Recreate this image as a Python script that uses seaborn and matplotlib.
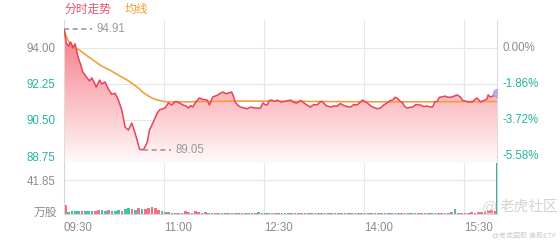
import numpy as np
import matplotlib
matplotlib.use("Agg")
import matplotlib.pyplot as plt
import matplotlib.transforms as mtransforms
from matplotlib.patches import Polygon
import seaborn as sns

# ---------------- data ----------------
prev_close = 94.00
price_ticks = [94.00, 92.25, 90.50, 88.75]
time_ticks = [0, 90, 180, 270, 360]
time_labels = ["09:30", "11:00", "12:30", "14:00", "15:30"]
vol_tick = 41.85

price_t = [0, 1, 2, 4, 6, 8, 10, 11, 13, 15, 17, 20, 23, 25, 27, 29, 32, 34, 37, 40,
           43, 46, 49, 52, 55, 58, 61, 64, 67, 68, 70, 72, 73, 75, 77, 80, 84, 86, 89, 91,
           94, 97, 100, 102, 105, 107, 110, 112, 114, 116, 119, 122, 125, 129, 131, 134, 138, 141, 143, 146,
           148, 151, 153, 154, 157, 159, 162, 165, 168, 170, 173, 177, 179, 181, 183, 185, 187, 190, 192, 195,
           197, 200, 204, 207, 210, 213, 215, 218, 222, 225, 228, 231, 233, 236, 240, 243, 246, 249, 251, 255,
           258, 261, 264, 267, 269, 271, 273, 276, 278, 282, 285, 288, 291, 294, 296, 298, 300, 303, 305, 307,
           309, 312, 314, 317, 321, 324, 327, 330, 332, 334, 336, 338, 340, 343, 345, 347, 349, 352, 354, 357,
           359, 361, 364, 366, 368, 370, 372, 374, 375, 377, 379, 381, 382, 384, 386, 388, 390]
price_v = [94.91, 94.60, 94.25, 94.10, 94.29, 94.00, 94.20, 93.95, 93.50, 93.20, 92.83, 92.60, 92.40, 92.55, 92.35, 92.10, 92.44, 92.25, 92.35, 92.00,
           91.75, 91.80, 91.47, 90.99, 90.16, 90.01, 90.35, 89.87, 89.30, 89.09, 89.05, 89.10, 89.20, 89.43, 90.01, 90.35, 90.84, 90.99, 91.05, 91.08,
           91.33, 91.23, 91.40, 91.38, 91.30, 91.23, 91.18, 91.08, 91.20, 91.13, 91.40, 91.57, 91.50, 91.47, 91.23, 91.62, 91.70, 91.81, 91.86, 91.78,
           91.81, 91.86, 91.60, 91.38, 91.20, 91.13, 91.08, 91.05, 91.13, 91.10, 91.08, 91.08, 91.33, 91.25, 91.23, 91.45, 91.47, 91.40, 91.47, 91.38,
           91.38, 91.42, 91.47, 91.35, 91.33, 91.45, 91.38, 91.25, 91.13, 91.25, 91.23, 91.40, 91.38, 91.20, 91.13, 91.18, 91.18, 91.30, 91.23, 91.15,
           91.13, 91.25, 91.23, 91.38, 91.47, 91.40, 91.33, 91.20, 91.13, 91.05, 91.08, 91.23, 91.33, 91.45, 91.47, 91.60, 91.57, 91.40, 91.33, 91.15,
           91.08, 91.12, 91.13, 91.25, 91.23, 91.15, 91.18, 91.13, 91.13, 91.38, 91.40, 91.60, 91.62, 91.66, 91.62, 91.60, 91.62, 91.67, 91.72, 91.62,
           91.45, 91.42, 91.38, 91.38, 91.38, 91.50, 91.57, 91.45, 91.38, 91.42, 91.47, 91.52, 91.72, 91.62, 91.65, 91.81, 91.81]

avg_t = [0, 1, 3, 5, 9, 14, 20, 26, 33, 41, 49, 57, 62, 66, 71, 75, 80, 84, 88, 93,
         110, 150, 200, 250, 300, 350, 390]
avg_v = [94.91, 94.73, 94.45, 94.24, 94.05, 93.90, 93.65, 93.42, 93.15, 92.93, 92.68, 92.44, 92.25, 92.10, 91.85, 91.70, 91.55, 91.47, 91.42, 91.38,
         91.38, 91.42, 91.41, 91.39, 91.38, 91.39, 91.40]

vol_v = [11.1, 2.5, 3.7, 3.1, 3.7, 3.1, 3.7, 3.7, 4.3, 3.7,
         4.9, 4.9, 3.7, 4.9, 3.7, 4.3, 4.9, 3.7, 6.2, 7.4,
         6.2, 4.9, 7.4, 6.2, 6.2, 8.0, 8.6, 7.4, 4.9, 3.7,
         2.5, 2.5, 1.8, 1.8, 1.2, 1.2, 3.7, 2.5, 1.8, 3.1,
         2.5, 1.5, 3.0, 1.2, 1.0, 1.5, 1.2, 0.9, 1.0, 1.4,
         1.1, 0.8, 1.2, 1.5, 1.0, 0.9, 1.3, 1.1, 2.0, 1.0,
         0.9, 1.2, 1.4, 1.0, 0.8, 1.1, 1.6, 1.2, 1.0, 0.9,
         1.3, 1.0, 1.2, 0.8, 1.5, 1.1, 1.0, 0.9, 1.2, 1.4,
         1.0, 1.8, 1.1, 0.9, 1.2, 1.0, 1.3, 0.8, 1.1, 1.0,
         1.2, 0.9, 1.5, 1.0, 1.1, 1.3, 0.9, 1.0, 1.2, 1.1,
         0.8, 1.0, 1.4, 1.2, 1.0, 0.9, 1.3, 1.6, 1.1, 1.0,
         1.2, 1.4, 1.0, 1.8, 1.3, 1.5, 2.0, 6.0, 1.5, 1.2,
         1.6, 1.4, 2.2, 1.8, 2.0, 2.5, 3.2, 4.5, 5.2, 4.0]
vol_dir = ("rggggrgggrrggrgggrggrgrgrrrrrggrgrgrrrgrr"
           "grggrrgrggrgrrggrgrggrrgrggrgrrgrgrggrgrggrrgrgrggrgrgrrggrgrgrggrrgrggrrrgrgrrrgrrrrrrrr")
vol_step = 3
close_vol = 62.8

# ---------------- style ----------------
RED = "#e8435c"
ORANGE = "#f3a03c"
TEAL = "#22b3a0"
GRAY = "#8c8c8c"
GRID = "#e6e6e6"
VRED = "#f07283"
VTEAL = "#45bfae"

sns.set_style("white")
plt.rcParams["font.family"] = ["Liberation Sans", "Noto Sans CJK SC", "DejaVu Sans"]

W, H = 560, 240
fig = plt.figure(figsize=(W / 100, H / 100), dpi=100)
x0, x1 = 64, 497
ax = fig.add_axes([x0 / W, 1 - 163 / H, (x1 - x0) / W, (163 - 20) / H])
axv = fig.add_axes([x0 / W, 1 - 214 / H, (x1 - x0) / W, (214 - 163) / H])

ymin, ymax = 88.41, 95.36
ax.set_xlim(0, 390)
ax.set_ylim(ymin, ymax)

# gradient fill under price line
verts = list(zip(price_t, price_v)) + [(390, ymin), (0, ymin)]
patch = Polygon(verts, closed=True, facecolor="none", edgecolor="none", transform=ax.transData)
ax.add_patch(patch)
top_c = np.array([246, 112, 125]) / 255
bot_c = np.array([255, 250, 250]) / 255
g = np.linspace(0, 1, 256)[:, None]
img = top_c[None, None, :] * (1 - g[..., None]) + bot_c[None, None, :] * g[..., None]
img = np.repeat(img, 2, axis=1)
im = ax.imshow(img, extent=[0, 390, ymin, ymax], aspect="auto", origin="upper", zorder=1)
im.set_clip_path(patch)

sns.lineplot(x=avg_t, y=avg_v, ax=ax, color=ORANGE, lw=1.2, zorder=3)
sns.lineplot(x=price_t, y=price_v, ax=ax, color=RED, lw=1.1, zorder=4)
ax.set_xlim(0, 390)
ax.set_ylim(ymin, ymax)

ax.scatter([price_t[-1]], [price_v[-1]], s=34, color="#bdb0ea", edgecolor="#a898de", lw=0.6, zorder=6)

# grid & ticks
ax.set_yticks(price_ticks)
ax.set_xticks(time_ticks)
ax.grid(True, color=GRID, lw=0.8)
ax.set_axisbelow(True)
ax.tick_params(length=0, pad=6, labelsize=8.3)
ax.set_xticklabels([])
ax.set_yticklabels([f"{p:.2f}" for p in price_ticks])
for lab, p in zip(ax.get_yticklabels(), price_ticks):
    lab.set_color(GRAY if abs(p - prev_close) < 1e-9 else TEAL)
trans = mtransforms.blended_transform_factory(ax.transAxes, ax.transData)
pct_step = round((price_ticks[0] - price_ticks[1]) / prev_close * 100, 2)
for k, p in enumerate(price_ticks):
    pct = -k * pct_step
    ax.text(1 + 5 / (x1 - x0), p, f"{pct:.2f}%", transform=trans, ha="left", va="center",
            fontsize=8.3, color=GRAY if k == 0 else TEAL)
for s in ["top", "bottom"]:
    ax.spines[s].set_visible(False)
for s in ["left", "right"]:
    ax.spines[s].set_color("#dcdcdc")
    ax.spines[s].set_linewidth(0.8)

# annotations for high and low
i_hi = int(np.argmax(price_v))
i_lo = int(np.argmin(price_v))
for i, off in [(i_hi, 0), (i_lo, 1)]:
    t0 = price_t[i] + off
    ax.plot([t0, t0 + 25], [price_v[i], price_v[i]], color="#9a9a9a", lw=1.2,
            dashes=(3, 2.2), zorder=5)
    ax.text(t0 + 29, price_v[i], f"{price_v[i]:.2f}", ha="left", va="center",
            fontsize=8.3, color="#9a9a9a", zorder=5)

# volume
vol_t = [i * vol_step + 1.2 for i in range(len(vol_v))]
vcols = [VRED if c == "r" else VTEAL for c in vol_dir[:len(vol_v)]]
axv.bar(vol_t, vol_v, width=2.4, color=vcols, lw=0)
axv.bar([389.5], [close_vol], width=0.9, color=TEAL, lw=0)
axv.set_xlim(0, 390)
axv.set_ylim(0, close_vol)
axv.set_yticks([vol_tick])
axv.set_yticklabels([f"{vol_tick:.2f}"])
axv.set_xticks(time_ticks)
axv.set_xticklabels(time_labels, ha="left")
axv.grid(True, color=GRID, lw=0.8)
axv.set_axisbelow(True)
axv.tick_params(length=0, labelsize=8.3, colors=GRAY)
axv.tick_params(axis="y", pad=6)
axv.tick_params(axis="x", pad=6)
axv.spines["top"].set_visible(False)
for s in ["left", "right", "bottom"]:
    axv.spines[s].set_color("#d6d6d6")
    axv.spines[s].set_linewidth(0.8)
axv.text(-7 / (x1 - x0), 1.8, "万股", transform=mtransforms.blended_transform_factory(axv.transAxes, axv.transData),
         ha="right", va="center", fontsize=8.5, color=GRAY)

# header
fig.text(64 / W, 1 - 10 / H, "分时走势", fontsize=8.5, color="#e8506a", va="center", ha="left")
fig.text(125 / W, 1 - 10 / H, "均线", fontsize=8.5, color="#f0a030", va="center", ha="left")

# watermark
fig.text(500 / W, 1 - 207 / H, "老虎社区", fontsize=10.5, color="#d3d3d3", va="center", ha="left")
fig.text(490 / W, 1 - 207 / H, "@", fontsize=11, color="#d8d8d8", va="center", ha="center")
fig.text(557 / W, 1 - 236.5 / H, "@老虎国股 美股ETF", fontsize=5, color="#cacaca", va="center", ha="right")

fig.savefig("out.png", dpi=100)
